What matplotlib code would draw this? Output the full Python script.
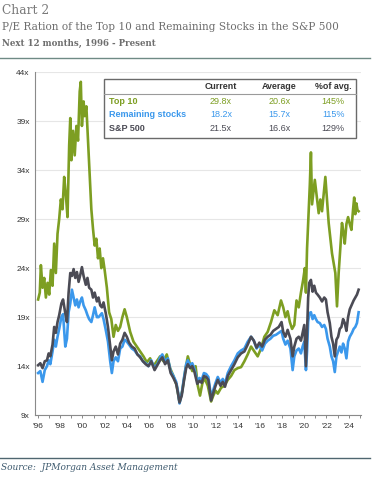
import matplotlib.pyplot as plt
from matplotlib.ticker import FixedLocator, MultipleLocator

# ---- data ----
top10_x = [1996.0, 1996.15, 1996.25, 1996.4, 1996.55, 1996.7, 1996.85, 1997.0, 1997.15, 1997.3,
           1997.45, 1997.6, 1997.75, 1997.9, 1998.05, 1998.2, 1998.35, 1998.5, 1998.65, 1998.8,
           1998.9, 1999.0, 1999.15, 1999.3, 1999.45, 1999.6, 1999.75, 1999.85, 1999.95, 2000.1,
           2000.2, 2000.35, 2000.5, 2000.65, 2000.8, 2000.95, 2001.1, 2001.25, 2001.4, 2001.55,
           2001.7, 2001.85, 2002.0, 2002.2, 2002.4, 2002.6, 2002.8, 2003.0, 2003.2, 2003.4,
           2003.6, 2003.8, 2004.0, 2004.3, 2004.6, 2004.9, 2005.2, 2005.5, 2005.8, 2006.1,
           2006.4, 2006.7, 2007.0, 2007.3, 2007.6, 2007.9, 2008.2, 2008.5, 2008.75, 2009.0,
           2009.3, 2009.5, 2009.7, 2009.9, 2010.2, 2010.4, 2010.6, 2010.8, 2011.0, 2011.3,
           2011.6, 2011.8, 2012.0, 2012.2, 2012.5, 2012.8, 2013.1, 2013.4, 2013.7, 2014.0,
           2014.3, 2014.6, 2014.9, 2015.2, 2015.5, 2015.8, 2016.1, 2016.4, 2016.7, 2017.0,
           2017.3, 2017.6, 2017.9, 2018.1, 2018.3, 2018.5, 2018.7, 2018.9, 2019.1, 2019.3,
           2019.5, 2019.7, 2019.9, 2020.05, 2020.15, 2020.25, 2020.4, 2020.5, 2020.6, 2020.7,
           2020.8, 2020.95, 2021.1, 2021.3, 2021.45, 2021.6, 2021.75, 2021.9, 2022.05, 2022.2,
           2022.35, 2022.5, 2022.65, 2022.8, 2022.95, 2023.1, 2023.25, 2023.4, 2023.55, 2023.65,
           2023.8, 2023.95, 2024.1, 2024.25, 2024.4, 2024.5, 2024.6, 2024.7, 2024.8, 2024.9]
top10_pe = [20.8, 21.5, 24.3, 22.0, 23.0, 21.0, 22.5, 21.3, 23.8, 22.2,
            26.5, 23.5, 27.5, 29.0, 31.0, 30.0, 33.3, 31.5, 29.2, 36.5,
            39.3, 35.0, 38.0, 35.5, 38.5, 37.0, 42.0, 43.0, 38.5, 41.0,
            39.5, 40.5, 37.0, 33.5, 30.0, 28.0, 26.3, 27.0, 25.0, 26.0,
            24.0, 25.0, 23.8, 22.0, 19.5, 18.8, 17.0, 18.2, 17.6, 18.0,
            19.0, 19.8, 19.0, 17.5, 16.5, 16.0, 15.5, 15.0, 14.4, 14.8,
            14.0, 14.5, 15.0, 14.5, 15.2, 13.8, 13.0, 12.0, 10.3, 11.5,
            13.8, 15.0, 14.2, 13.5, 14.0, 12.0, 11.0, 12.2, 12.8, 12.0,
            10.4, 11.0, 11.5, 11.2, 11.8, 12.0, 12.6, 13.0, 13.6, 13.8,
            13.9, 14.5, 15.2, 16.0, 15.5, 15.0, 15.8, 17.0, 17.5, 18.5,
            19.7, 19.2, 20.7, 20.0, 19.0, 19.6, 18.5, 17.8, 18.2, 20.7,
            20.0, 21.5, 22.8, 24.0, 21.5, 26.0, 30.0, 32.5, 35.8, 30.5,
            31.5, 33.0, 31.5, 29.6, 31.0, 29.8, 31.5, 33.3, 31.0, 28.6,
            27.0, 25.5, 24.5, 23.5, 20.1, 23.5, 26.0, 28.6, 27.5, 26.5,
            28.5, 29.2, 28.5, 27.9, 30.0, 31.2, 29.5, 30.6, 29.9, 29.8]

broad_x = [1996.0, 1996.2, 1996.4, 1996.6, 1996.8, 1996.95, 1997.1, 1997.3, 1997.45, 1997.6,
           1997.75, 1997.9, 1998.1, 1998.25, 1998.45, 1998.6, 1998.75, 1998.9, 1999.05, 1999.2,
           1999.35, 1999.5, 1999.65, 1999.8, 1999.95, 2000.1, 2000.3, 2000.45, 2000.6, 2000.8,
           2000.95, 2001.1, 2001.3, 2001.45, 2001.6, 2001.75, 2001.9, 2002.1, 2002.3, 2002.5,
           2002.65, 2002.8, 2003.0, 2003.2, 2003.4, 2003.6, 2003.8, 2004.0, 2004.2, 2004.45,
           2004.7, 2004.95, 2005.2, 2005.45, 2005.7, 2005.95, 2006.2, 2006.5, 2006.8, 2007.0,
           2007.2, 2007.45, 2007.7, 2007.95, 2008.2, 2008.45, 2008.6, 2008.75, 2008.95, 2009.15,
           2009.35, 2009.5, 2009.7, 2009.9, 2010.1, 2010.35, 2010.55, 2010.75, 2010.95, 2011.15,
           2011.35, 2011.6, 2011.8, 2012.0, 2012.2, 2012.45, 2012.65, 2012.85, 2013.1, 2013.4,
           2013.7, 2014.0, 2014.3, 2014.6, 2014.9, 2015.2, 2015.45, 2015.7, 2015.95, 2016.2,
           2016.45, 2016.7, 2016.95, 2017.2, 2017.45, 2017.7, 2017.95, 2018.1, 2018.3, 2018.5,
           2018.75, 2018.95, 2019.1, 2019.3, 2019.5, 2019.7, 2019.85, 2020.0, 2020.15, 2020.25,
           2020.35, 2020.45, 2020.6, 2020.75, 2020.9, 2021.05, 2021.2, 2021.4, 2021.6, 2021.8,
           2021.95, 2022.1, 2022.3, 2022.45, 2022.6, 2022.75, 2022.9, 2023.05, 2023.2, 2023.35,
           2023.5, 2023.65, 2023.8, 2023.95, 2024.1, 2024.3, 2024.45, 2024.6, 2024.75, 2024.9]
rest_pe = [13.3, 13.5, 12.4, 13.6, 14.0, 14.6, 14.2, 15.5, 16.7, 16.0,
           17.0, 17.8, 19.0, 19.3, 16.0, 16.8, 19.5, 20.4, 21.8, 21.0,
           20.2, 20.8, 20.0, 20.6, 21.0, 20.2, 19.7, 19.2, 18.8, 18.5,
           19.2, 20.0, 19.0, 19.0, 19.2, 19.4, 18.8, 17.7, 16.5, 14.5,
           13.3, 14.5, 14.9, 14.5, 15.8, 16.0, 16.7, 16.5, 16.2, 15.8,
           15.6, 15.2, 15.0, 14.5, 14.3, 14.0, 14.6, 13.8, 14.3, 14.9,
           15.2, 14.5, 14.8, 13.5, 13.0, 12.4, 11.5, 10.2, 11.2, 12.8,
           14.2, 14.6, 14.1, 14.3, 13.7, 12.5, 12.8, 12.6, 13.3, 13.2,
           12.9, 10.8, 11.6, 12.3, 12.9, 12.3, 12.7, 12.2, 13.3, 14.0,
           14.6, 15.3, 15.6, 15.8, 16.5, 17.0, 16.6, 15.8, 16.2, 15.6,
           16.3, 16.6, 16.8, 17.1, 17.2, 17.4, 17.6, 16.8, 16.2, 16.6,
           15.8, 13.6, 15.0, 15.6, 15.8, 15.3, 16.0, 16.5, 13.6, 15.5,
           18.5, 19.4, 19.5, 18.8, 19.2, 18.8, 18.5, 18.4, 18.0, 18.2,
           17.8, 16.8, 16.0, 15.0, 14.5, 13.4, 15.0, 15.5, 16.0, 15.4,
           16.3, 15.8, 14.8, 16.5, 17.0, 17.4, 17.8, 18.0, 18.4, 19.5]
spx_pe = [14.1, 14.3, 13.8, 14.5, 14.6, 15.3, 15.0, 16.2, 18.0, 17.4,
          18.5, 19.2, 20.4, 20.8, 19.4, 18.5, 21.5, 23.5, 23.2, 23.9,
          23.0, 23.6, 22.6, 23.3, 24.1, 23.2, 22.3, 23.0, 22.0, 21.8,
          21.0, 21.5, 20.6, 21.0, 20.2, 20.0, 20.5, 19.4, 18.0, 16.0,
          14.6, 15.5, 16.0, 15.2, 16.3, 16.7, 17.4, 17.0, 16.4, 16.0,
          15.8, 15.2, 14.9, 14.5, 14.2, 14.0, 14.5, 13.6, 14.2, 14.6,
          14.9, 14.2, 14.6, 13.3, 12.8, 12.2, 11.3, 10.3, 11.0, 12.5,
          13.8, 14.2, 13.8, 14.0, 13.4, 12.2, 12.5, 12.3, 13.0, 12.9,
          12.6, 10.5, 11.3, 12.0, 12.6, 12.0, 12.4, 11.9, 13.0, 13.6,
          14.2, 14.9, 15.3, 15.5, 16.2, 17.0, 16.6, 15.9, 16.4, 16.0,
          16.7, 17.0, 17.2, 17.6, 17.8, 18.0, 18.5, 17.5, 17.0, 17.7,
          16.8, 15.0, 16.0, 16.8, 17.0, 16.6, 17.4, 18.2, 14.0, 17.5,
          21.0, 22.5, 22.8, 21.6, 22.2, 21.5, 21.3, 21.0, 20.6, 21.0,
          20.8, 19.5, 18.4, 17.0, 16.3, 15.0, 16.7, 17.0, 17.8, 18.0,
          18.8, 18.4, 17.6, 19.0, 19.8, 20.3, 20.7, 21.0, 21.3, 21.8]

series_names = ["Top 10", "Remaining stocks", "S&P 500"]
current = ["29.8x", "18.2x", "21.5x"]
average = ["20.6x", "15.7x", "16.6x"]
pct_avg = ["145%", "115%", "129%"]
table_cols = ["Current", "Average", "%of avg."]

year_ticks = list(range(1996, 2025, 2))
year_labels = ["'" + str(y)[2:] for y in year_ticks]
pe_ticks = [9, 14, 19, 24, 29, 34, 39, 44]
pe_labels = [str(v) + "x" for v in pe_ticks]

green = "#7d9e22"
blue = "#3b98ec"
dark = "#4b4b55"

fig = plt.figure(figsize=(3.72, 4.8), dpi=100)

# header
fig.text(0.005, 0.978, "Chart 2", family="DejaVu Serif", fontsize=8.8, color="#7a7a7a", va="center")
fig.text(0.005, 0.944, "P/E Ration of the Top 10 and Remaining Stocks in the S&P 500",
         family="DejaVu Serif", fontsize=7.6, color="#6e6e6e", va="center")
fig.text(0.005, 0.909, "Next 12 months, 1996 - Present", family="DejaVu Serif", fontsize=6.2,
         color="#6e6e6e", va="center", weight="bold")
fig.add_artist(plt.Line2D([0.0, 0.995], [0.879, 0.879], color="#6f8a85", lw=1.0))

# footer
fig.add_artist(plt.Line2D([0.0, 0.995], [0.046, 0.046], color="#4f6670", lw=1.0))
fig.text(0.003, 0.027, "Source:  JPMorgan Asset Management", family="DejaVu Serif", style="italic",
         fontsize=6.5, color="#3e5a6e", va="center")

ax = fig.add_axes([0.095, 0.135, 0.875, 0.715])
ax.plot(top10_x, top10_pe, color=green, lw=1.9, solid_joinstyle="round")
ax.plot(broad_x, rest_pe, color=blue, lw=1.9, solid_joinstyle="round")
ax.plot(broad_x, spx_pe, color=dark, lw=1.9, solid_joinstyle="round")

ax.set_xlim(1995.75, 2025.1)
ax.set_ylim(9, 44)
ax.yaxis.set_major_locator(FixedLocator(pe_ticks))
ax.set_yticklabels(pe_labels)
ax.xaxis.set_major_locator(FixedLocator(year_ticks))
ax.set_xticklabels(year_labels)
ax.xaxis.set_minor_locator(MultipleLocator(1))
ax.grid(axis="y", color="#e6e6e6", lw=0.8)
ax.set_axisbelow(True)
for s in ["top", "right"]:
    ax.spines[s].set_visible(False)
for s in ["left", "bottom"]:
    ax.spines[s].set_color("#8a8a8a")
    ax.spines[s].set_linewidth(0.8)
ax.tick_params(axis="y", length=0, labelsize=6, colors="#333333", pad=4)
ax.tick_params(axis="x", which="both", length=2.5, labelsize=6, colors="#8a8a8a",
               labelcolor="#333333", pad=3, width=0.7)
for lab in ax.get_xticklabels() + ax.get_yticklabels():
    lab.set_family("Liberation Sans")

# summary table box
box_l, box_r, box_t, box_b = 0.21, 0.985, 0.98, 0.808
ax.add_patch(plt.Rectangle((box_l, box_b), box_r - box_l, box_t - box_b, transform=ax.transAxes,
                           facecolor="white", edgecolor="#6a6a6a", lw=1.0, zorder=5))
ax.add_artist(plt.Line2D([box_l, box_r], [0.936, 0.936], transform=ax.transAxes,
                         color="#9a9a9a", lw=0.8, zorder=6))
col_x = [0.57, 0.75, 0.915]
for cx, name in zip(col_x, table_cols):
    ax.text(cx, 0.957, name, transform=ax.transAxes, ha="center", va="center", fontsize=6.4,
            weight="bold", color="#333333", family="Liberation Sans", zorder=7)
row_y = [0.913, 0.875, 0.834]
for ry, name, c1, c2, c3, col in zip(row_y, series_names, current, average, pct_avg, [green, blue, dark]):
    ax.text(0.225, ry, name, transform=ax.transAxes, ha="left", va="center", fontsize=6.5,
            weight="bold", color=col, family="Liberation Sans", zorder=7)
    for cx, val in zip(col_x, [c1, c2, c3]):
        ax.text(cx, ry, val, transform=ax.transAxes, ha="center", va="center", fontsize=6.5,
                color=col, family="Liberation Sans", zorder=7)

fig.savefig("out.png", dpi=100)
